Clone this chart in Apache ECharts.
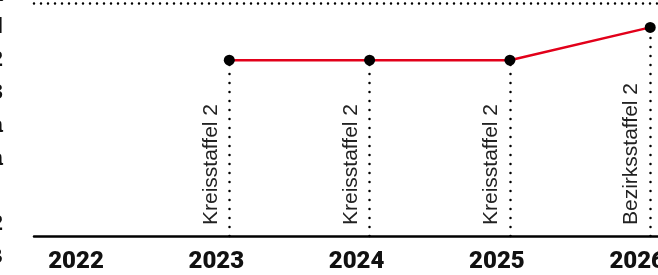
<!DOCTYPE html>
<html>
<head>
<meta charset="utf-8">
<script src="https://cdn.jsdelivr.net/npm/echarts@6/dist/echarts.min.js"></script>
<style>
html,body{margin:0;padding:0;background:#fff;}
#chart{width:658px;height:275px;}
</style>
</head>
<body>
<div id="chart"></div>
<script>
// Spielzeiten und Liga-Ebene (0 = unten)
let years=[2022,2023,2024,2025,2026];
let seasonYears=[2023,2024,2025,2026];
let levels=[6,6,6,7];
let leagueNames=["Kreisstaffel 2","Kreisstaffel 2","Kreisstaffel 2","Bezirksstaffel 2"];
let levelLabels=["Kreisklasse B","Kreisklasse 2","","Kreisliga","Kreisoberliga","Kreisstaffel 3","Kreisstaffel 2","Bezirksstaffel","Bezirksliga"];
let baseLevel=0.64;
let topLevel=7.74;

let points=seasonYears.map((y,i)=>[y,levels[i]]);

let dropLines=seasonYears.map((y,i)=>[
    {coord:[y,baseLevel],label:{formatter:leagueNames[i]}},
    {coord:[y,levels[i]]}
]);

var myChart=echarts.init(document.getElementById("chart"));

var option={
    animation:false,
    grid:{left:34,right:0,top:-5.4,bottom:18,containLabel:false,outerBoundsMode:"none"},
    xAxis:{
        type:"value",
        min:2021.608,
        max:2026.0556,
        axisLine:{show:false},
        axisTick:{show:false},
        splitLine:{show:false},
        axisLabel:{
            customValues:years,
            showMinLabel:true,
            showMaxLabel:true,
            hideOverlap:false,
            margin:-7,
            padding:[0,26,0,0],
            fontFamily:"Roboto,sans-serif",
            fontWeight:900,
            fontSize:24,
            color:"#111",
            formatter:v=>String(v)
        }
    },
    yAxis:{
        type:"value",
        min:0,
        max:8,
        interval:1,
        axisLine:{show:false},
        axisTick:{show:false},
        splitLine:{show:false},
        axisLabel:{
            margin:31,
            fontFamily:"'Liberation Sans',sans-serif",
            fontWeight:"bold",
            fontSize:22,
            color:"#111",
            formatter:v=>levelLabels[v]||""
        }
    },
    series:[{
        type:"line",
        data:points,
        symbol:"circle",
        symbolSize:11,
        itemStyle:{color:"#000"},
        lineStyle:{color:"#e2001a",width:2.5},
        z:5,
        markLine:{
            silent:true,
            symbol:"none",
            animation:false,
            data:[
                {yAxis:baseLevel,lineStyle:{type:"solid",width:2.5,color:"#000"},label:{show:false}},
                {yAxis:topLevel,lineStyle:{type:[0,7],cap:"round",width:2.5,color:"#000"},label:{show:false}}
            ].concat(dropLines),
            lineStyle:{type:[0,9],cap:"round",width:2.5,color:"#000"},
            label:{
                show:true,
                position:"insideStartTop",
                distance:[11,8],
                fontFamily:"'Liberation Sans',sans-serif",
                fontSize:21,
                color:"#222"
            }
        }
    }]
};

myChart.setOption(option);
</script>
</body>
</html>
